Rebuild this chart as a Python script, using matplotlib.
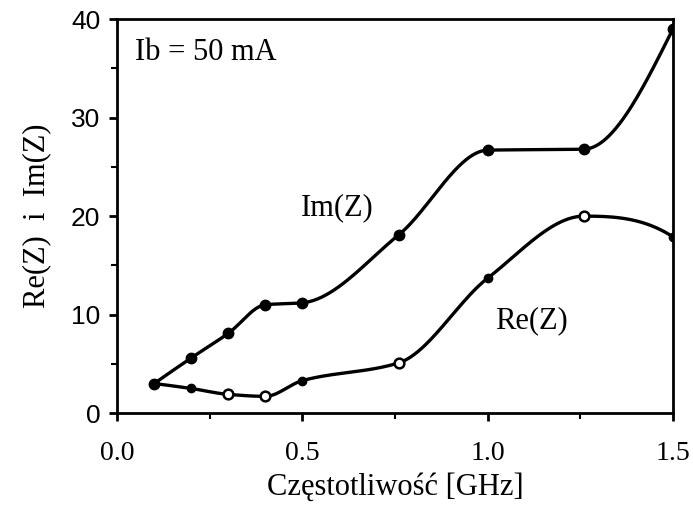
import numpy as np
import matplotlib
matplotlib.use("Agg")
import matplotlib.pyplot as plt

# Data
freq_im = [0.10, 0.20, 0.30, 0.40, 0.50, 0.76, 1.00, 1.26, 1.50]
im_z    = [3.0, 5.6, 8.1, 11.0, 11.2, 18.1, 26.7, 26.8, 39.0]
freq_re = [0.10, 0.20, 0.30, 0.40, 0.50, 0.76, 1.00, 1.26, 1.50]
re_z    = [3.0, 2.5, 1.9, 1.7, 3.3, 5.1, 13.7, 20.0, 17.9]
re_filled = [True, True, False, False, True, False, True, False, True]

x_ticks = [0.0, 0.5, 1.0, 1.5]
x_ticklabels = ["0.0", "0.5", "1.0", "1.5"]
y_ticks = [0, 10, 20, 30, 40]
y_ticklabels = ["0", "10", "20", "30", "40"]


def pchip(x, y, xs):
    x = np.asarray(x, float); y = np.asarray(y, float)
    h = np.diff(x); d = np.diff(y) / h
    n = len(x); m = np.zeros(n)
    for k in range(1, n - 1):
        if d[k - 1] * d[k] <= 0:
            m[k] = 0.0
        else:
            w1 = 2 * h[k] + h[k - 1]; w2 = h[k] + 2 * h[k - 1]
            m[k] = (w1 + w2) / (w1 / d[k - 1] + w2 / d[k])
    def end(h0, h1, d0, d1):
        mm = ((2 * h0 + h1) * d0 - h0 * d1) / (h0 + h1)
        if np.sign(mm) != np.sign(d0):
            mm = 0.0
        elif np.sign(d0) != np.sign(d1) and abs(mm) > abs(3 * d0):
            mm = 3 * d0
        return mm
    m[0] = end(h[0], h[1], d[0], d[1])
    m[-1] = end(h[-1], h[-2], d[-1], d[-2])
    idx = np.clip(np.searchsorted(x, xs) - 1, 0, n - 2)
    t = (xs - x[idx]) / h[idx]
    h00 = 2 * t**3 - 3 * t**2 + 1; h10 = t**3 - 2 * t**2 + t
    h01 = -2 * t**3 + 3 * t**2; h11 = t**3 - t**2
    return h00 * y[idx] + h10 * h[idx] * m[idx] + h01 * y[idx + 1] + h11 * h[idx] * m[idx + 1]


plt.rcParams['font.family'] = ['Liberation Serif', 'DejaVu Serif']
fig = plt.figure(figsize=(6.93, 5.05), dpi=100)
ax = fig.add_axes([0.169, 0.182, 0.802, 0.780])

xs = np.linspace(freq_im[0], freq_im[-1], 400)
ax.plot(xs, pchip(freq_im, im_z, xs), color='black', lw=2.4, solid_capstyle='round')
xs2 = np.linspace(freq_re[0], freq_re[-1], 400)
ax.plot(xs2, pchip(freq_re, re_z, xs2), color='black', lw=2.4, solid_capstyle='round')

ax.plot(freq_im, im_z, 'o', color='black', ms=7.5)
fr = np.array(freq_re); rz = np.array(re_z); fl = np.array(re_filled)
ax.plot(fr[fl], rz[fl], 'o', color='black', ms=6)
ax.plot(fr[~fl], rz[~fl], 'o', mfc='white', mec='black', mew=1.8, ms=7)

ax.set_xlim(0.0, 1.5)
ax.set_ylim(0, 40)
ax.set_xticks(x_ticks)
ax.set_xticklabels(x_ticklabels, fontsize=20)
ax.set_yticks(y_ticks)
ax.set_yticklabels(y_ticklabels, fontsize=19, family=['Liberation Sans', 'DejaVu Sans'])
ax.set_xticks([0.25, 0.75, 1.25], minor=True)
ax.set_yticks([5, 15, 25, 35], minor=True)
ax.tick_params(which='major', direction='out', length=6, width=2)
ax.tick_params(axis='x', which='major', pad=14)
ax.tick_params(axis='y', which='major', pad=6)
ax.tick_params(which='minor', direction='out', length=4, width=1.5)
for s in ax.spines.values():
    s.set_linewidth(2)

ax.set_xlabel("Częstotliwość [GHz]", fontsize=22, labelpad=5)
ax.set_ylabel("Re(Z)  i  Im(Z)", fontsize=22, labelpad=14)

ax.text(0.049, 36.6, "Ib = 50 mA", fontsize=22, va='center', ha='left')
ax.text(0.593, 20.9, "Im(Z)", fontsize=22, va='center', ha='center')
ax.text(1.118, 9.4, "Re(Z)", fontsize=22, va='center', ha='center')

fig.savefig("out.png", dpi=100)
